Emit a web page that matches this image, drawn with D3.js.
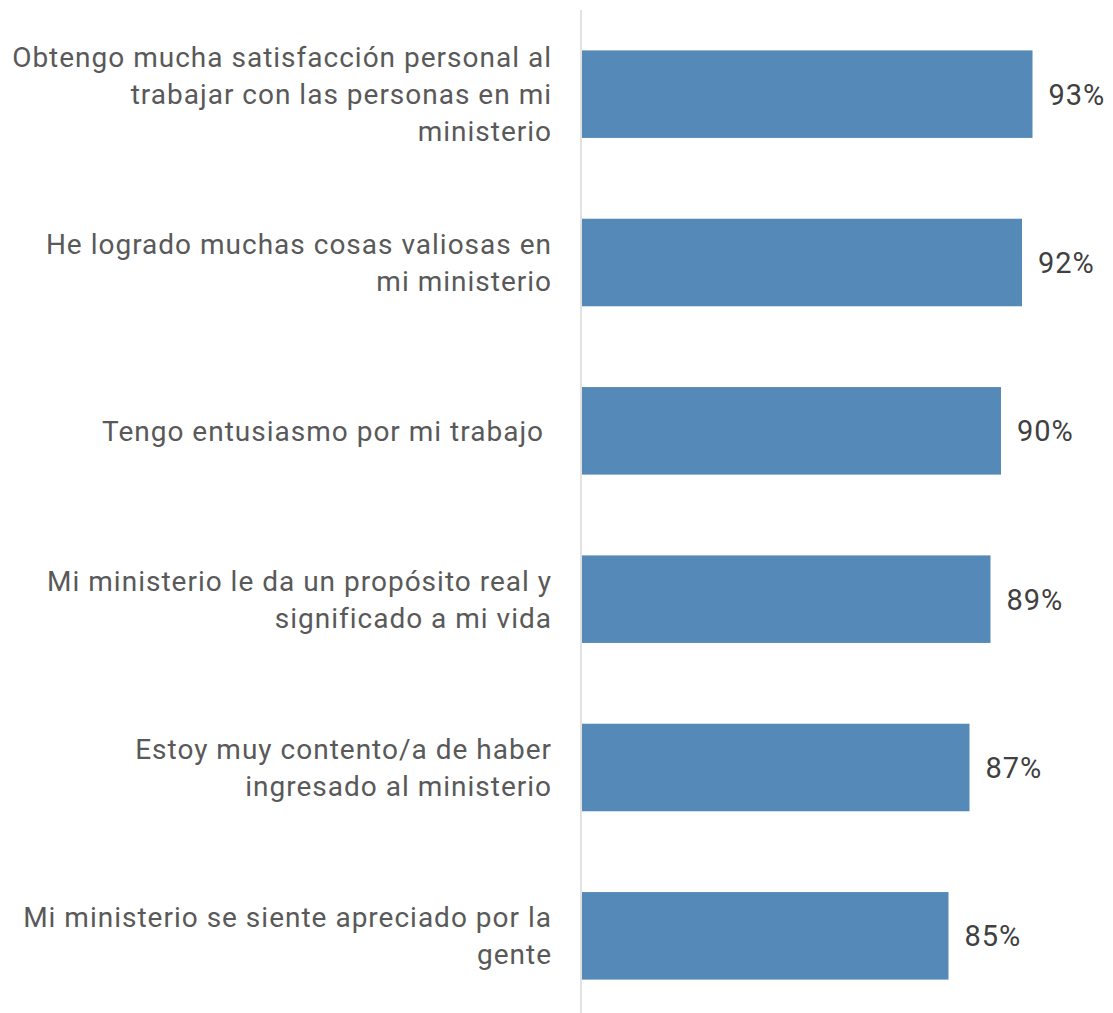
<!DOCTYPE html>
<html>
<head>
<meta charset="utf-8">
<script src="https://cdn.jsdelivr.net/npm/d3@7"></script>
<style>
  body { margin: 0; background: #fff; }
  svg text { font-family: Roboto, "DejaVu Sans Condensed", sans-serif; font-weight: 400; letter-spacing: 1px; white-space: pre; }
</style>
</head>
<body>
<svg id="chart"></svg>
<script>
var width = 1113, height = 1013
var axisX = 581

// data
var labels = [
  ["Obtengo mucha satisfacción personal al", "trabajar con las personas en mi", "ministerio"],
  ["He logrado muchas cosas valiosas en", "mi ministerio"],
  ["Tengo entusiasmo por mi trabajo "],
  ["Mi ministerio le da un propósito real y", "significado a mi vida"],
  ["Estoy muy contento/a de haber", "ingresado al ministerio"],
  ["Mi ministerio se siente apreciado por la", "gente"]
]
var values = [93, 92, 90, 89, 87, 85]

var svg = d3.select('#chart').attr('width', width).attr('height', height)

var x = d3.scaleLinear().domain([50, 100]).range([axisX, axisX + 525])
var y = d3.scaleBand().domain(d3.range(values.length)).range([10, 1020])
  .paddingInner(0.48).paddingOuter(0.24)

var rows = svg.selectAll('.row').data(values).enter()
  .append('g').classed('row', true)

rows.append('rect')
  .attr('x', x(50) + 1)
  .attr('y', function(d, i){ return y(i) })
  .attr('width', function(d){ return x(d) - x(50) - 1 })
  .attr('height', y.bandwidth())
  .attr('fill', '#5589b8')

rows.append('text')
  .attr('x', function(d){ return x(d) + 16 })
  .attr('y', function(d, i){ return y(i) + y.bandwidth()/2 })
  .attr('dy', '0.36em')
  .attr('font-size', 29)
  .attr('fill', '#404040')
  .text(function(d){ return d + '%' })

// category labels, right aligned
var lineH = 37
rows.append('text')
  .attr('text-anchor', 'end')
  .attr('font-size', 28)
  .attr('fill', '#595959')
  .each(function(d, i){
    var lines = labels[i]
    var cy = y(i) + y.bandwidth()/2
    var top = cy - (lines.length - 1) * lineH / 2
    d3.select(this).selectAll('tspan').data(lines).enter()
      .append('tspan')
      .attr('x', 552)
      .attr('y', function(l, j){ return top + j*lineH })
      .attr('dy', '0.36em')
      .text(function(l){ return l })
  })

// vertical axis line
svg.append('line')
  .attr('x1', axisX).attr('x2', axisX)
  .attr('y1', 10).attr('y2', height)
  .attr('stroke', '#d9d9d9')
  .attr('stroke-width', 1.5)
</script>
</body>
</html>
